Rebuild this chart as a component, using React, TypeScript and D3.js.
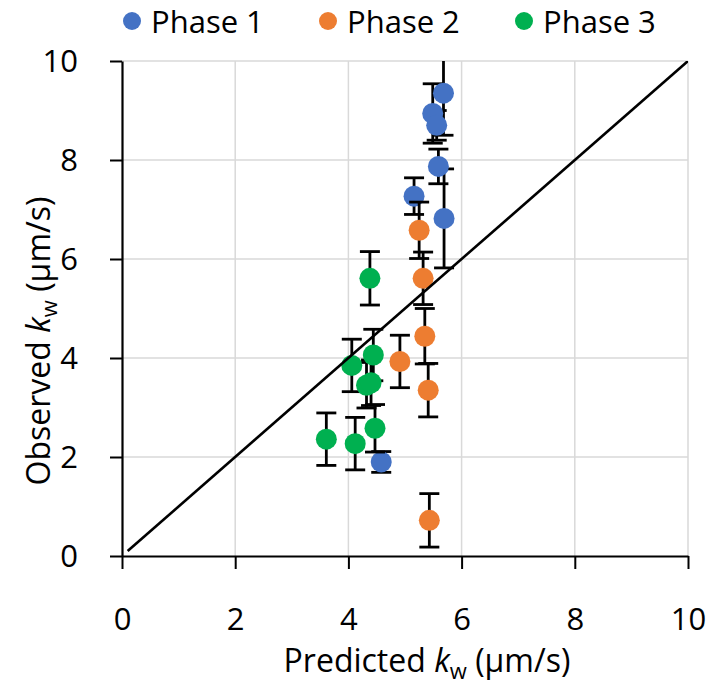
import { useEffect, useRef } from "react"
import * as d3 from "d3"

type Obs = { predicted: number; observed: number; err: number }

// predicted vs observed kw, error = ± observed uncertainty
const phase1: Obs[] = [
  { predicted: 5.68, observed: 9.35, err: 0.85 },
  { predicted: 5.49, observed: 8.94, err: 0.6 },
  { predicted: 5.56, observed: 8.7, err: 0.3 },
  { predicted: 5.59, observed: 7.87, err: 0.35 },
  { predicted: 5.16, observed: 7.27, err: 0.37 },
  { predicted: 5.69, observed: 6.82, err: 1.0 },
  { predicted: 4.58, observed: 1.9, err: 0.21 },
]

const phase2: Obs[] = [
  { predicted: 5.25, observed: 6.58, err: 0.57 },
  { predicted: 5.32, observed: 5.61, err: 0.53 },
  { predicted: 5.35, observed: 4.44, err: 0.56 },
  { predicted: 4.91, observed: 3.93, err: 0.53 },
  { predicted: 5.41, observed: 3.35, err: 0.54 },
  { predicted: 5.43, observed: 0.72, err: 0.54 },
]

const phase3: Obs[] = [
  { predicted: 4.38, observed: 5.61, err: 0.54 },
  { predicted: 4.44, observed: 4.06, err: 0.52 },
  { predicted: 4.06, observed: 3.85, err: 0.53 },
  { predicted: 4.32, observed: 3.45, err: 0.46 },
  { predicted: 4.4, observed: 3.5, err: 0.46 },
  { predicted: 4.47, observed: 2.58, err: 0.48 },
  { predicted: 3.61, observed: 2.36, err: 0.53 },
  { predicted: 4.12, observed: 2.27, err: 0.53 },
]

const seriesNames = ["Phase 1", "Phase 2", "Phase 3"]
const seriesColors = ["#4472C4", "#ED7D31", "#00B050"]
const xTicks = [0, 2, 4, 6, 8, 10]
const yTicks = [0, 2, 4, 6, 8, 10]
const identityLine = [0.1, 10]

export default function App() {
  const svgRef = useRef<SVGSVGElement>(null)

  useEffect(() => {
    if (!svgRef.current) return
    const svg = d3.select(svgRef.current)
    svg.selectAll("*").remove()

    const font = "'Open Sans', sans-serif"
    const plot = { left: 122, right: 688, top: 61, bottom: 556 }

    const x = d3.scaleLinear().domain([0, 10]).range([plot.left, plot.right])
    const y = d3.scaleLinear().domain([0, 10]).range([plot.bottom, plot.top])

    svg.append("rect").attr("width", 708).attr("height", 687).attr("fill", "#fff")

    svg
      .append("defs")
      .append("clipPath")
      .attr("id", "plot-clip")
      .append("rect")
      .attr("x", plot.left)
      .attr("y", plot.top)
      .attr("width", plot.right - plot.left)
      .attr("height", plot.bottom - plot.top)

    // gridlines
    svg
      .append("g")
      .selectAll("line")
      .data(yTicks.filter((d) => d > 0))
      .enter()
      .append("line")
      .attr("x1", plot.left)
      .attr("x2", plot.right)
      .attr("y1", (d) => y(d))
      .attr("y2", (d) => y(d))
      .attr("stroke", "#d9d9d9")
      .attr("stroke-width", 1.5)

    svg
      .append("g")
      .selectAll("line")
      .data(xTicks.filter((d) => d > 0))
      .enter()
      .append("line")
      .attr("x1", (d) => x(d))
      .attr("x2", (d) => x(d))
      .attr("y1", plot.top)
      .attr("y2", plot.bottom)
      .attr("stroke", "#d9d9d9")
      .attr("stroke-width", 1.5)

    // axes
    const xAxis = svg
      .append("g")
      .attr("transform", `translate(0,${plot.bottom})`)
      .call(d3.axisBottom(x).tickValues(xTicks).tickSize(13).tickSizeOuter(0).tickFormat(d3.format("d")))
    xAxis.select(".domain").attr("stroke", "#000").attr("stroke-width", 2.2)
    xAxis.selectAll(".tick line").attr("stroke", "#000").attr("stroke-width", 2)
    xAxis
      .selectAll(".tick text")
      .attr("y", 0)
      .attr("dy", 0)
      .attr("transform", "translate(0,74)")
      .style("font-family", font)
      .style("font-size", "31px")
      .style("fill", "#000")

    const yAxis = svg
      .append("g")
      .attr("transform", `translate(${plot.left},0)`)
      .call(d3.axisLeft(y).tickValues(yTicks).tickSize(12).tickSizeOuter(0).tickFormat(d3.format("d")))
    yAxis.select(".domain").attr("stroke", "#000").attr("stroke-width", 2.2)
    yAxis.selectAll(".tick line").attr("stroke", "#000").attr("stroke-width", 2)
    yAxis
      .selectAll(".tick text")
      .attr("x", -44)
      .attr("dy", "0.35em")
      .style("font-family", font)
      .style("font-size", "31px")
      .style("fill", "#000")

    const all = [phase1, phase2, phase3]
    const body = svg.append("g").attr("clip-path", "url(#plot-clip)")

    all.forEach((points, i) => {
      const g = body.append("g")
      const bars = g
        .selectAll(".err")
        .data(points)
        .enter()
        .append("g")
        .attr("stroke", "#000")
        .attr("stroke-width", 2.8)
      bars
        .append("line")
        .attr("x1", (d) => x(d.predicted))
        .attr("x2", (d) => x(d.predicted))
        .attr("y1", (d) => y(d.observed - d.err))
        .attr("y2", (d) => y(d.observed + d.err))
      bars
        .append("line")
        .attr("x1", (d) => x(d.predicted) - 10)
        .attr("x2", (d) => x(d.predicted) + 10)
        .attr("y1", (d) => y(d.observed - d.err))
        .attr("y2", (d) => y(d.observed - d.err))
      bars
        .append("line")
        .attr("x1", (d) => x(d.predicted) - 10)
        .attr("x2", (d) => x(d.predicted) + 10)
        .attr("y1", (d) => y(d.observed + d.err))
        .attr("y2", (d) => y(d.observed + d.err))

      g.selectAll(".dot")
        .data(points)
        .enter()
        .append("circle")
        .attr("cx", (d) => x(d.predicted))
        .attr("cy", (d) => y(d.observed))
        .attr("r", 10.5)
        .attr("fill", seriesColors[i])
    })

    // 1:1 line
    body
      .append("line")
      .attr("x1", x(identityLine[0]))
      .attr("y1", y(identityLine[0]))
      .attr("x2", x(identityLine[1]))
      .attr("y2", y(identityLine[1]))
      .attr("stroke", "#000")
      .attr("stroke-width", 2.6)

    // legend
    const legendX = [132, 328, 524]
    const legend = svg
      .append("g")
      .selectAll("g")
      .data(seriesNames)
      .enter()
      .append("g")
      .attr("transform", (d, i) => `translate(${legendX[i]},21)`)
    legend.append("circle").attr("r", 9).attr("fill", (d, i) => seriesColors[i])
    legend
      .append("text")
      .attr("x", 19)
      .attr("y", 12)
      .style("font-family", font)
      .style("font-size", "31px")
      .style("fill", "#000")
      .text((d) => d)

    // axis titles
    const xTitle = svg
      .append("text")
      .attr("x", 427)
      .attr("y", 672)
      .attr("text-anchor", "middle")
      .style("font-family", font)
      .style("font-size", "32px")
      .style("fill", "#000")
    xTitle.append("tspan").text("Predicted ")
    xTitle.append("tspan").style("font-style", "italic").text("k")
    xTitle.append("tspan").attr("dy", 7).style("font-size", "22px").text("w")
    xTitle.append("tspan").attr("dy", -7).text(" (μm/s)")

    const yTitle = svg
      .append("text")
      .attr("transform", "translate(50,341) rotate(-90)")
      .attr("text-anchor", "middle")
      .style("font-family", font)
      .style("font-size", "32px")
      .style("fill", "#000")
    yTitle.append("tspan").text("Observed ")
    yTitle.append("tspan").style("font-style", "italic").text("k")
    yTitle.append("tspan").attr("dy", 7).style("font-size", "22px").text("w")
    yTitle.append("tspan").attr("dy", -7).text(" (μm/s)")
  }, [])

  return (
    <svg
      ref={svgRef}
      width={708}
      height={687}
      style={{ position: "absolute", left: 0, top: 0 }}
    ></svg>
  )
}
